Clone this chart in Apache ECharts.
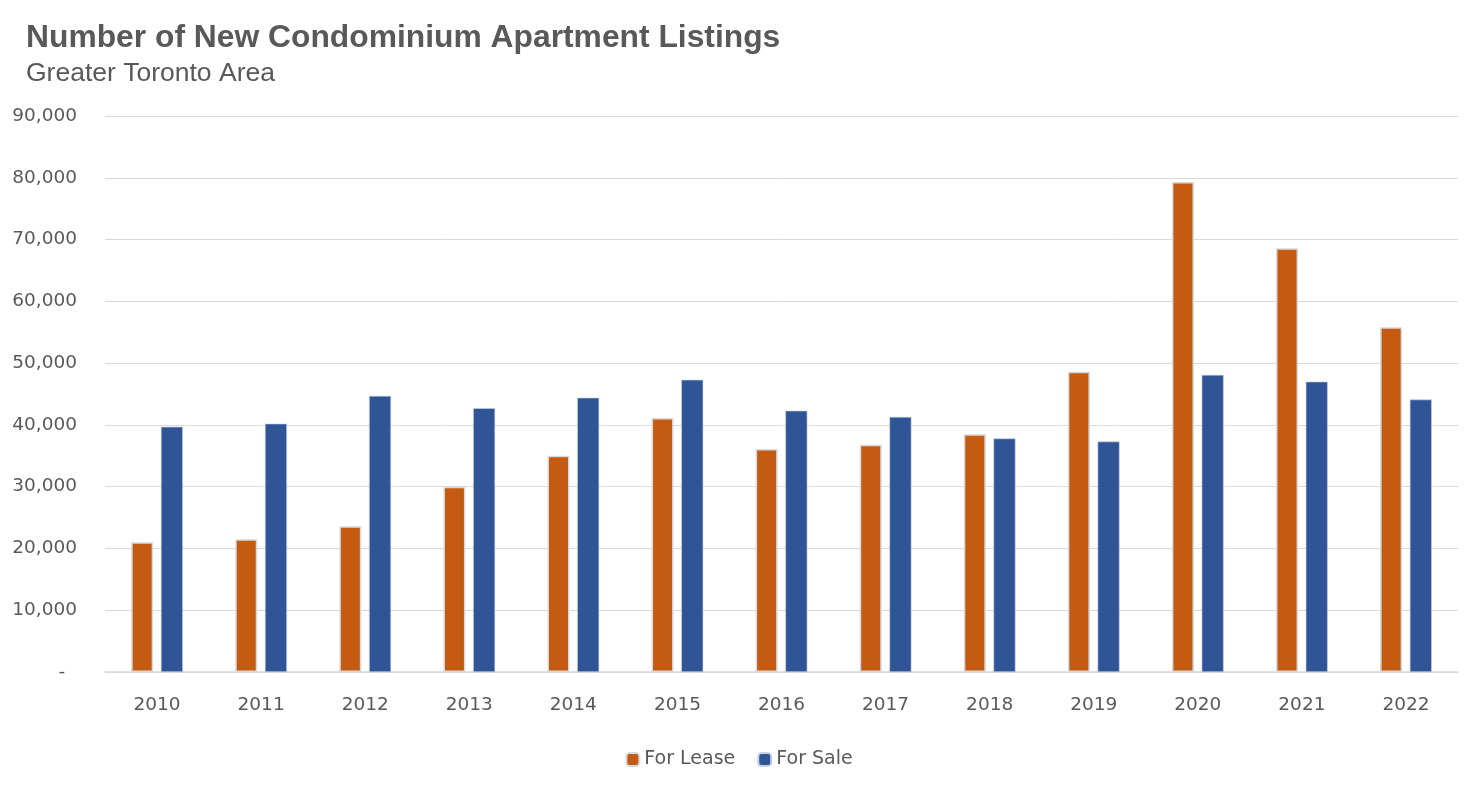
<!DOCTYPE html>
<html>
<head>
<meta charset="utf-8">
<script src="https://cdn.jsdelivr.net/npm/echarts@6/dist/echarts.min.js"></script>
<style>
html,body{margin:0;padding:0;background:#fff;}
#chart{width:1478px;height:786px;}
</style>
</head>
<body>
<div id="chart"></div>
<script>
const titleText = "Number of New Condominium Apartment Listings";
const subtitleText = "Greater Toronto Area";
const categories = ["2010","2011","2012","2013","2014","2015","2016","2017","2018","2019","2020","2021","2022"];
const forLease = [21000, 21500, 23600, 30000, 35000, 41100, 36100, 36800, 38500, 48600, 79300, 68600, 55800];
const forSale = [39700, 40200, 44700, 42700, 44400, 47300, 42300, 41300, 37800, 37300, 48100, 47000, 44100];
const seriesNames = ["For Lease", "For Sale"];

const chart = echarts.init(document.getElementById('chart'));
const labelFont = "'DejaVu Sans', 'Noto Sans', sans-serif";
chart.setOption({
  animation: false,
  backgroundColor: '#ffffff',
  title: [
    {text: titleText, left: 21, top: 17,
     textStyle: {fontFamily: "'Liberation Sans', Arial, sans-serif", fontSize: 31.8, fontWeight: 'bold', color: '#595959'}},
    {text: subtitleText, left: 21, top: 55,
     textStyle: {fontFamily: "'Liberation Sans', Arial, sans-serif", fontSize: 26.5, fontWeight: 'normal', color: '#595959'}}
  ],
  legend: {
    top: 745, left: 'center',
    itemWidth: 13, itemHeight: 13, itemGap: 22,
    textStyle: {fontFamily: labelFont, fontSize: 19, color: '#595959'},
    data: seriesNames
  },
  grid: {left: 105, right: 20, top: 116, bottom: 114, containLabel: false},
  xAxis: {
    type: 'category', data: categories,
    axisLine: {lineStyle: {color: '#d9d9d9', width: 1.5}},
    axisTick: {show: false},
    axisLabel: {fontFamily: labelFont, fontSize: 18.5, color: '#595959', margin: 24}
  },
  yAxis: {
    type: 'value', min: 0, max: 90000, interval: 10000,
    axisLine: {show: false}, axisTick: {show: false},
    splitLine: {lineStyle: {color: '#d9d9d9', width: 1}},
    axisLabel: {fontFamily: labelFont, fontSize: 18.5, color: '#595959', margin: 28,
      formatter: v => v === 0 ? '-  ' : v.toLocaleString('en-US')}
  },
  series: [
    {name: seriesNames[0], type: 'bar', data: forLease, barWidth: 22, barGap: '35%',
     itemStyle: {color: '#C55A11', borderColor: '#d9d9d9', borderWidth: 1.5}},
    {name: seriesNames[1], type: 'bar', data: forSale, barWidth: 22, barGap: '35%',
     itemStyle: {color: '#2F5597', borderColor: '#c8d2e4', borderWidth: 0.6}}
  ]
});
</script>
</body>
</html>
